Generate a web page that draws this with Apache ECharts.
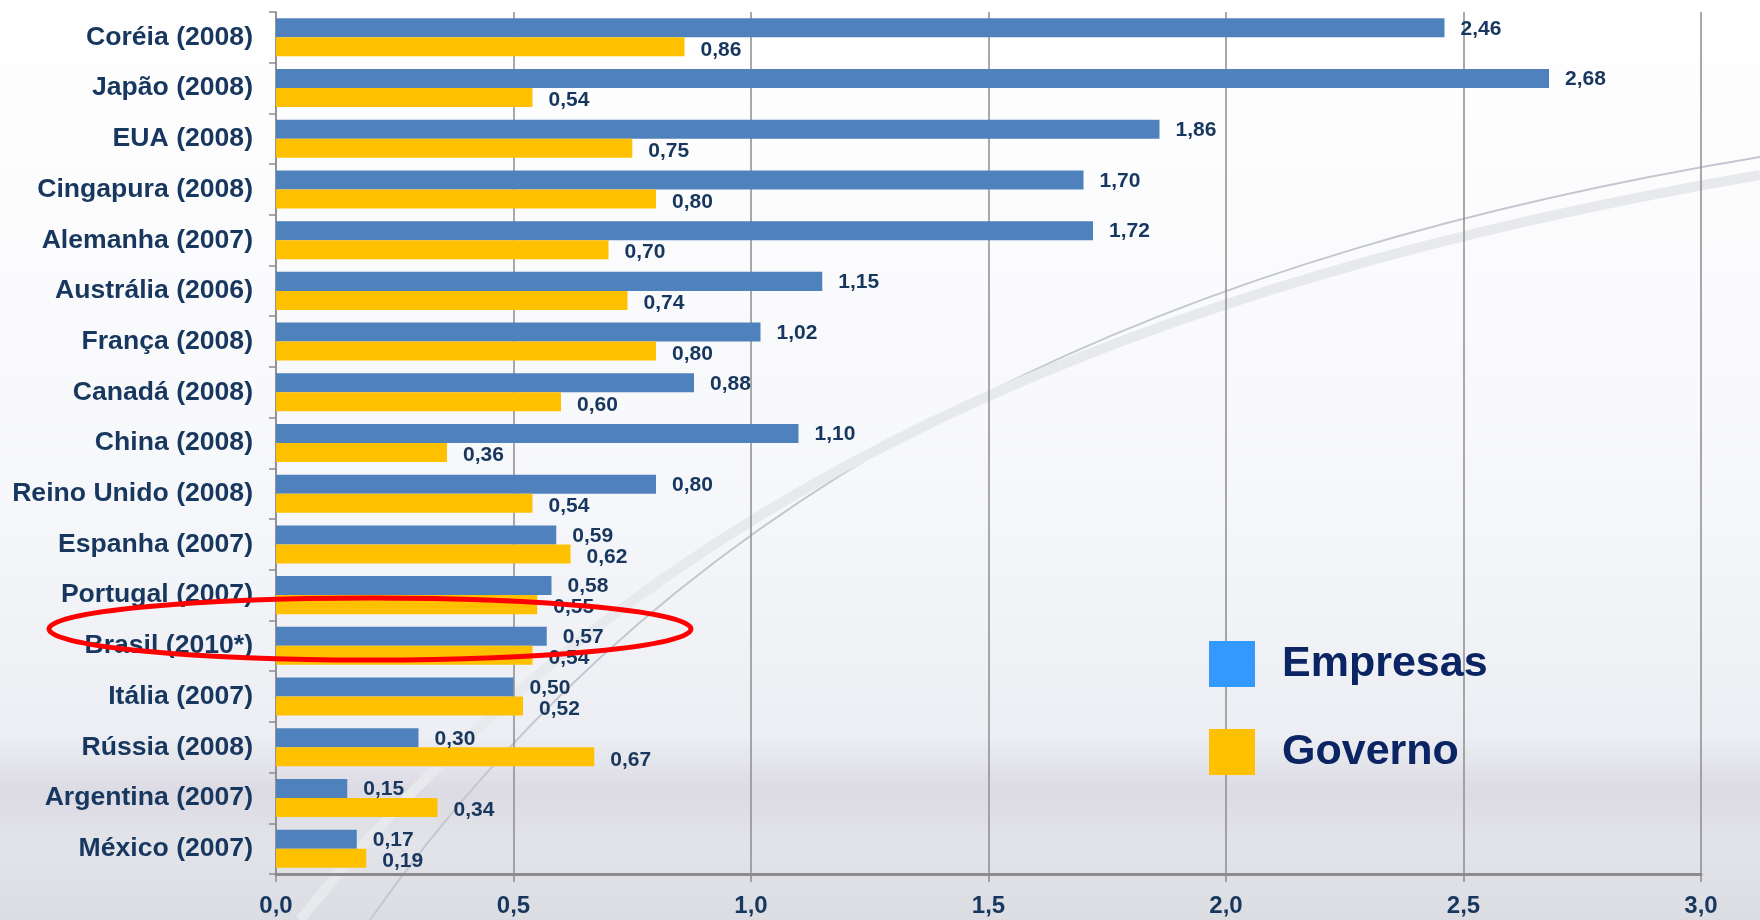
<!DOCTYPE html>
<html><head><meta charset="utf-8">
<script src="https://cdn.jsdelivr.net/npm/echarts@6/dist/echarts.min.js"></script>
<style>html,body{margin:0;padding:0;}#c{width:1760px;height:920px;}</style>
</head><body><div id="c"></div>
<script>
const categories = ['Coréia (2008)','Japão (2008)','EUA (2008)','Cingapura (2008)','Alemanha (2007)','Austrália (2006)','França (2008)','Canadá (2008)','China (2008)','Reino Unido (2008)','Espanha (2007)','Portugal (2007)','Brasil (2010*)','Itália (2007)','Rússia (2008)','Argentina (2007)','México (2007)'];
const empresas = [2.46,2.68,1.86,1.70,1.72,1.15,1.02,0.88,1.10,0.80,0.59,0.58,0.57,0.50,0.30,0.15,0.17];
const governo  = [0.86,0.54,0.75,0.80,0.70,0.74,0.80,0.60,0.36,0.54,0.62,0.55,0.54,0.52,0.67,0.34,0.19];
const xTicks = [0,0.5,1,1.5,2,2.5,3];

const navy = '#17375E';
const fmt = v => v.toFixed(2).replace('.', ',');
const chart = echarts.init(document.getElementById('c'));
chart.setOption({
  backgroundColor: {type:'linear', x:0, y:0, x2:0, y2:1, colorStops:[
    {offset:0, color:'#ffffff'},{offset:0.55, color:'#f6f7fa'},{offset:0.8, color:'#eceef3'},
    {offset:0.86, color:'#dcdae3'},{offset:0.92, color:'#e3e4ea'},{offset:1, color:'#dcdde3'}]},
  animation:false,
  graphic:[
    {type:'bezierCurve', silent:true, z:-1, shape:{x1:370,y1:920,x2:1760,y2:157,cpx1:700,cpy1:450,cpx2:1200,cpy2:250}, style:{stroke:'#c4c7cf', lineWidth:2, fill:null}},
    {type:'bezierCurve', silent:true, z:-1, shape:{x1:300,y1:920,x2:1760,y2:175,cpx1:650,cpy1:480,cpx2:1150,cpy2:280}, style:{stroke:'#e7e9ed', lineWidth:10, fill:null}},
    {type:'ellipse', silent:true, z:100, shape:{cx:370, cy:629, rx:321, ry:31}, style:{stroke:'#ff0000', lineWidth:5, fill:null}}
  ],
  grid:{left:276, right:59, top:12, bottom:46},
  legend:{
    orient:'vertical', left:1204, top:636, itemWidth:46, itemHeight:46, itemGap:42, icon:'rect',
    textStyle:{fontFamily:'Liberation Sans, Arial, sans-serif', fontWeight:'bold', fontSize:43, color:'#0B2463', padding:[0,0,0,22]},
    data:[{name:'Empresas', itemStyle:{color:'#3399FF'}},{name:'Governo', itemStyle:{color:'#FFC000'}}]
  },
  xAxis:{
    type:'value', min:0, max:3, interval:0.5,
    axisLine:{show:true, lineStyle:{color:'#8c8c8c', width:3}},
    axisTick:{show:true, length:8, lineStyle:{color:'#8c8c8c', width:1.5}},
    splitLine:{show:true, lineStyle:{color:'#8c8c8c', width:1.5}},
    axisLabel:{margin:20, fontFamily:'Liberation Sans, Arial, sans-serif', fontWeight:'bold', fontSize:24, color:navy,
      formatter: v => xTicks.includes(v) ? v.toFixed(1).replace('.', ',') : ''}
  },
  yAxis:{
    type:'category', data:categories, inverse:true,
    axisLine:{show:true, lineStyle:{color:'#8c8c8c', width:1.5}},
    axisTick:{show:true, length:7, lineStyle:{color:'#8c8c8c', width:1.5}},
    axisLabel:{margin:23, fontFamily:'Liberation Sans, Arial, sans-serif', fontWeight:'bold', fontSize:26.6, color:navy}
  },
  series:[
    {name:'Empresas', type:'bar', data:empresas, barGap:'0%', barCategoryGap:'25%',
     itemStyle:{color:'#4F81BD'},
     label:{show:true, position:'right', distance:16, offset:[0,1], formatter:p=>fmt(p.value), fontFamily:'Liberation Sans, Arial, sans-serif', fontWeight:'bold', fontSize:21, color:navy}},
    {name:'Governo', type:'bar', data:governo, barGap:'0%', barCategoryGap:'25%',
     itemStyle:{color:'#FFC000'},
     label:{show:true, position:'right', distance:16, offset:[0,3], formatter:p=>fmt(p.value), fontFamily:'Liberation Sans, Arial, sans-serif', fontWeight:'bold', fontSize:21, color:navy}}
  ]
});
</script></body></html>
